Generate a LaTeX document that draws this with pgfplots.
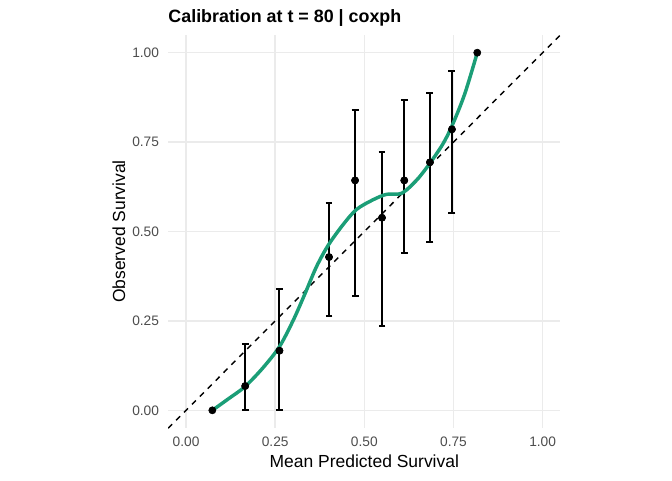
\documentclass[border=0pt]{standalone}
\usepackage{pgfplots}
\pgfplotsset{compat=1.18}
\usepackage{fontspec}
\setmainfont{Liberation Sans}
\definecolor{dgreen}{HTML}{1B9E77}
\definecolor{gridc}{HTML}{EBEBEB}
\definecolor{tickc}{HTML}{4D4D4D}
\begin{document}
\begin{tikzpicture}
\path[use as bounding box] (0,0) rectangle (504pt,360pt);
\begin{axis}[
  at={(126.15pt,38.85pt)}, anchor=south west,
  scale only axis, width=294.2pt, height=295.05pt,
  xmin=-0.05, xmax=1.05, ymin=-0.05, ymax=1.05,
  axis line style={draw=none},
  major tick length=0pt,
  xtick={0,0.25,0.5,0.75,1}, ytick={0,0.25,0.5,0.75,1},
  xticklabels={0.00,0.25,0.50,0.75,1.00},
  yticklabels={0.00,0.25,0.50,0.75,1.00},
  /pgf/number format/assume math mode=true,
  grid=major,
  major grid style={draw=gridc, line width=1.07pt},
  tick label style={font=\fontsize{10.3}{12}\selectfont, text=tickc},
  xticklabel style={anchor=north, inner sep=0pt, yshift=-6.4pt},
  yticklabel style={anchor=east, inner sep=0pt, xshift=-6.7pt},
  xlabel={Mean Predicted Survival},
  ylabel={Observed Survival},
  label style={font=\fontsize{13.1}{15}\selectfont},
  xlabel style={at={(axis description cs:0.5,-0.1004)}, anchor=base, inner sep=0pt},
  ylabel style={at={(axis description cs:-0.1101,0.5)}, anchor=base, inner sep=0pt},
  title={Calibration at t = 80 | coxph},
  every axis title/.style={font=\fontsize{13.4}{16}\selectfont\bfseries, at={(axis description cs:0,1)}, anchor=base west, inner sep=0pt, yshift=9.1pt},
  clip=true,
]
% reference diagonal
\addplot[black, line width=1.07pt, dash pattern=on 4.2pt off 4.2pt] coordinates {(-0.05,-0.05) (1.05,1.05)};
% error bars
\addplot[black, line width=1.5pt, only marks, mark=none,
  error bars/.cd, y dir=both, y explicit,
  error bar style={line width=1.5pt, black},
  error mark options={rotate=90, mark size=2.6pt, line width=1.5pt, black}]
 coordinates {
  (0.166,0.068) += (0,0.117) -= (0,0.068)
  (0.262,0.1667) += (0,0.1723) -= (0,0.1667)
  (0.401,0.4286) += (0,0.1514) -= (0,0.1640)
  (0.474,0.6429) += (0,0.1971) -= (0,0.3224)
  (0.5495,0.5385) += (0,0.1845) -= (0,0.3019)
  (0.612,0.6429) += (0,0.2251) -= (0,0.2022)
  (0.684,0.6935) += (0,0.1945) -= (0,0.2237)
  (0.7457,0.7857) += (0,0.1633) -= (0,0.2337)
 };
% points
\addplot[only marks, mark=*, mark size=2.7pt, black] coordinates {
  (0.0738,0.0) (0.166,0.068) (0.262,0.1667) (0.401,0.4286) (0.474,0.6429)
  (0.5495,0.5385) (0.612,0.6429) (0.684,0.6935) (0.7457,0.7857) (0.8167,1.0)
};
% smooth curve
\addplot[dgreen, line width=2.6pt, smooth, tension=0.5, line cap=round] coordinates {
  (0.0738,0.000) (0.120,0.033) (0.165,0.066) (0.215,0.118) (0.262,0.178)
  (0.301,0.2525) (0.334,0.327) (0.366,0.402) (0.399,0.462) (0.441,0.520)
  (0.4785,0.562) (0.525,0.589) (0.5626,0.604) (0.605,0.607) (0.647,0.644)
  (0.684,0.691) (0.7214,0.7466) (0.749,0.8026) (0.782,0.886) (0.8167,1.000)
};
\end{axis}
\end{tikzpicture}
\end{document}
